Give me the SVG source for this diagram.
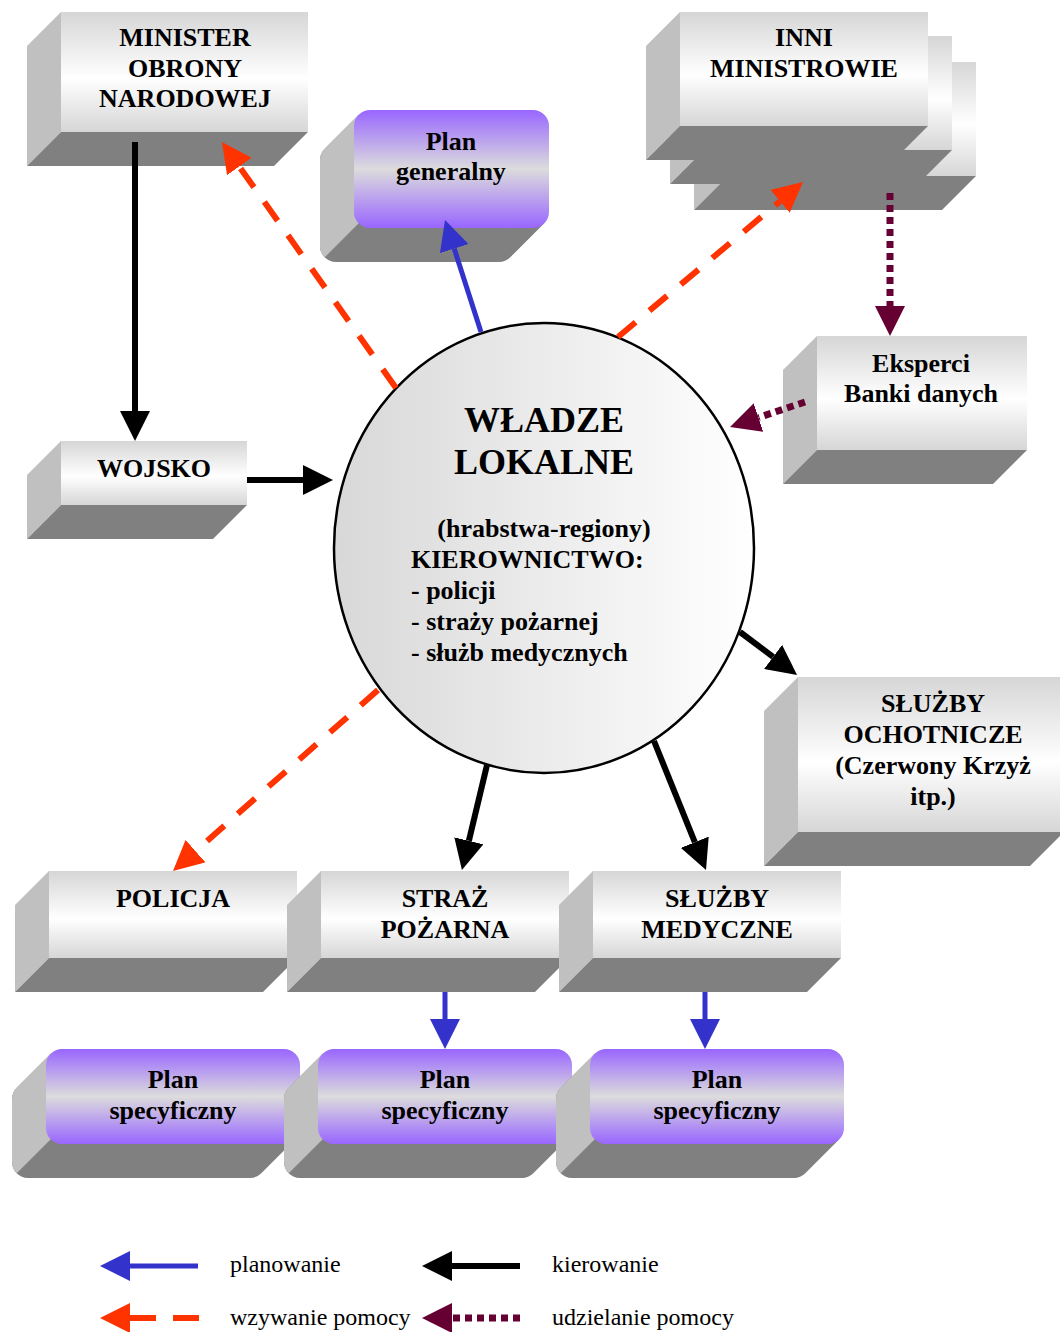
<svg xmlns="http://www.w3.org/2000/svg" width="1060" height="1332" viewBox="0 0 1060 1332">
  <defs>
    <linearGradient id="gFront" x1="0" y1="0" x2="0" y2="1">
      <stop offset="0" stop-color="#d6d6d6"/>
      <stop offset="0.55" stop-color="#ffffff"/>
      <stop offset="1" stop-color="#d6d6d6"/>
    </linearGradient>
    <linearGradient id="gPlan" x1="0" y1="0" x2="0" y2="1">
      <stop offset="0" stop-color="#9966ff"/>
      <stop offset="0.5" stop-color="#dcdcdc"/>
      <stop offset="1" stop-color="#9966ff"/>
    </linearGradient>
    <linearGradient id="gCircle" x1="0" y1="0" x2="1" y2="0">
      <stop offset="0" stop-color="#d8d8d8"/>
      <stop offset="1" stop-color="#ffffff"/>
    </linearGradient>
    <marker id="hBlack" markerUnits="userSpaceOnUse" markerWidth="30" markerHeight="30" refX="0" refY="15" orient="auto">
      <path d="M0,0 L30,15 L0,30 Z" fill="#000000"/>
    </marker>
    <marker id="hBlue" markerUnits="userSpaceOnUse" markerWidth="30" markerHeight="30" refX="0" refY="15" orient="auto">
      <path d="M0,0 L30,15 L0,30 Z" fill="#3333cc"/>
    </marker>
    <marker id="hRed" markerUnits="userSpaceOnUse" markerWidth="30" markerHeight="30" refX="0" refY="15" orient="auto">
      <path d="M0,0 L30,15 L0,30 Z" fill="#ff3300"/>
    </marker>
    <marker id="hMaroon" markerUnits="userSpaceOnUse" markerWidth="30" markerHeight="30" refX="0" refY="15" orient="auto">
      <path d="M0,0 L30,15 L0,30 Z" fill="#660033"/>
    </marker>
    <!-- rounded plan slab, 254 x 95, extruded 34px down-left -->
    <g id="planSlab">
      <path class="bottom" d="M4.7,4.7 L-29.3,38.7 A16,16 0 0 0 -34,50 L-34,113 A16,16 0 0 0 -18,129 L204,129 A16,16 0 0 0 215.3,124.3 L249.3,90.3 Z"/>
      <path class="side" d="M4.7,4.7 L-29.3,38.7 A16,16 0 0 0 -34,50 L-34,113 A16,16 0 0 0 -29.3,124.3 L4.7,90.3 Z"/>
      <rect class="plan" x="0" y="0" width="254" height="95" rx="16" ry="16"/>
    </g>
  </defs>
  <style>
    .side { fill: #c0c0c0; }
    .bottom { fill: #808080; }
    .front { fill: url(#gFront); }
    .plan { fill: url(#gPlan); }
    text { font-family: "Liberation Serif", "Times New Roman", serif; fill: #000000; }
    .lbl { font-size: 26px; font-weight: bold; text-anchor: middle; }
    .title { font-size: 36px; font-weight: bold; text-anchor: middle; }
    .body { font-size: 26px; font-weight: bold; }
    .legend { font-size: 24px; }
    .k { stroke: #000000; stroke-width: 6; fill: none; marker-end: url(#hBlack); }
    .b { stroke: #3333cc; stroke-width: 5; fill: none; marker-end: url(#hBlue); }
    .r { stroke: #ff3300; stroke-width: 6; fill: none; stroke-dasharray: 23 18; marker-end: url(#hRed); }
    .m { stroke: #660033; stroke-width: 7; fill: none; stroke-dasharray: 7 5; marker-end: url(#hMaroon); }
  </style>

  <rect x="0" y="0" width="1060" height="1332" fill="#ffffff"/>

  <!-- MINISTER OBRONY NARODOWEJ -->
  <g id="minister">
    <polygon class="side" points="61,12 27,46 27,166 61,132"/>
    <polygon class="bottom" points="61,132 308,132 274,166 27,166"/>
    <rect class="front" x="61" y="12" width="247" height="120"/>
    <text class="lbl" x="185" y="46">MINISTER</text>
    <text class="lbl" x="185" y="77">OBRONY</text>
    <text class="lbl" x="185" y="107">NARODOWEJ</text>
  </g>

  <!-- INNI MINISTROWIE: three stacked slabs -->
  <g id="inni">
    <polygon class="side" points="728,62 694,96 694,210 728,176"/>
    <polygon class="bottom" points="728,176 976,176 942,210 694,210"/>
    <rect class="front" x="728" y="62" width="248" height="114"/>
    <polygon class="side" points="704,36 670,70 670,184 704,150"/>
    <polygon class="bottom" points="704,150 952,150 918,184 670,184"/>
    <rect class="front" x="704" y="36" width="248" height="114"/>
    <polygon class="side" points="680,12 646,46 646,160 680,126"/>
    <polygon class="bottom" points="680,126 928,126 894,160 646,160"/>
    <rect class="front" x="680" y="12" width="248" height="114"/>
    <text class="lbl" x="804" y="46">INNI</text>
    <text class="lbl" x="804" y="77">MINISTROWIE</text>
  </g>

  <!-- Plan generalny -->
  <g id="plan-generalny" transform="translate(354,110)">
    <path class="bottom" d="M4.7,4.7 L-29.3,38.7 A16,16 0 0 0 -34,50 L-34,136 A16,16 0 0 0 -18,152 L145,152 A16,16 0 0 0 156.3,147.3 L190.3,113.3 Z"/>
    <path class="side" d="M4.7,4.7 L-29.3,38.7 A16,16 0 0 0 -34,50 L-34,136 A16,16 0 0 0 -29.3,147.3 L4.7,113.3 Z"/>
    <rect class="plan" x="0" y="0" width="195" height="118" rx="16" ry="16"/>
    <text class="lbl" x="97" y="40">Plan</text>
    <text class="lbl" x="97" y="70">generalny</text>
  </g>

  <!-- Eksperci / Banki danych -->
  <g id="eksperci">
    <polygon class="side" points="817,336 783,370 783,484 817,450"/>
    <polygon class="bottom" points="817,450 1027,450 993,484 783,484"/>
    <rect class="front" x="817" y="336" width="210" height="114"/>
    <text class="lbl" x="921" y="372">Eksperci</text>
    <text class="lbl" x="921" y="402">Banki danych</text>
  </g>

  <!-- WOJSKO -->
  <g id="wojsko">
    <polygon class="side" points="61,441 27,475 27,539 61,505"/>
    <polygon class="bottom" points="61,505 247,505 213,539 27,539"/>
    <rect class="front" x="61" y="441" width="186" height="64"/>
    <text class="lbl" x="154" y="477">WOJSKO</text>
  </g>

  <!-- WŁADZE LOKALNE -->
  <g id="wladze-lokalne">
    <ellipse cx="544" cy="548" rx="210" ry="225" fill="url(#gCircle)" stroke="#000000" stroke-width="2.5"/>
    <text class="title" x="544" y="432">WŁADZE</text>
    <text class="title" x="544" y="474">LOKALNE</text>
    <text class="lbl" x="544" y="537">(hrabstwa-regiony)</text>
    <text class="body" x="411" y="568">KIEROWNICTWO:</text>
    <text class="body" x="411" y="599">- policji</text>
    <text class="body" x="411" y="630">- straży pożarnej</text>
    <text class="body" x="411" y="661">- służb medycznych</text>
  </g>

  <!-- SŁUŻBY OCHOTNICZE -->
  <g id="sluzby-ochotnicze">
    <polygon class="side" points="798,677 764,711 764,866 798,832"/>
    <polygon class="bottom" points="798,832 1064,832 1030,866 764,866"/>
    <rect class="front" x="798" y="677" width="266" height="155"/>
    <text class="lbl" x="933" y="712">SŁUŻBY</text>
    <text class="lbl" x="933" y="743">OCHOTNICZE</text>
    <text class="lbl" x="933" y="774">(Czerwony Krzyż</text>
    <text class="lbl" x="933" y="805">itp.)</text>
  </g>

  <!-- POLICJA -->
  <g id="policja">
    <polygon class="side" points="49,871 15,905 15,992 49,958"/>
    <polygon class="bottom" points="49,958 297,958 263,992 15,992"/>
    <rect class="front" x="49" y="871" width="248" height="87"/>
    <text class="lbl" x="173" y="907">POLICJA</text>
  </g>

  <!-- STRAŻ POŻARNA -->
  <g id="straz-pozarna">
    <polygon class="side" points="321,871 287,905 287,992 321,958"/>
    <polygon class="bottom" points="321,958 569,958 535,992 287,992"/>
    <rect class="front" x="321" y="871" width="248" height="87"/>
    <text class="lbl" x="445" y="907">STRAŻ</text>
    <text class="lbl" x="445" y="938">POŻARNA</text>
  </g>

  <!-- SŁUŻBY MEDYCZNE -->
  <g id="sluzby-medyczne">
    <polygon class="side" points="593,871 559,905 559,992 593,958"/>
    <polygon class="bottom" points="593,958 841,958 807,992 559,992"/>
    <rect class="front" x="593" y="871" width="248" height="87"/>
    <text class="lbl" x="717" y="907">SŁUŻBY</text>
    <text class="lbl" x="717" y="938">MEDYCZNE</text>
  </g>

  <!-- Plan specyficzny (x3) -->
  <g id="plan-specyficzny-1" transform="translate(46,1049)">
    <use href="#planSlab"/>
    <text class="lbl" x="127" y="39">Plan</text>
    <text class="lbl" x="127" y="70">specyficzny</text>
  </g>
  <g id="plan-specyficzny-2" transform="translate(318,1049)">
    <use href="#planSlab"/>
    <text class="lbl" x="127" y="39">Plan</text>
    <text class="lbl" x="127" y="70">specyficzny</text>
  </g>
  <g id="plan-specyficzny-3" transform="translate(590,1049)">
    <use href="#planSlab"/>
    <text class="lbl" x="127" y="39">Plan</text>
    <text class="lbl" x="127" y="70">specyficzny</text>
  </g>

  <!-- connectors -->
  <g id="connectors">
    <path class="k" d="M135,142 L135,411"/>
    <path class="k" d="M247,480 L303,480"/>
    <path class="k" d="M740,632 L773.1,656.9"/>
    <path class="k" d="M487,765 L468.9,840.8"/>
    <path class="k" d="M654,741 L694.8,842.2"/>
    <path class="b" d="M481,332 L454.2,248.6"/>
    <path class="b" d="M445,992 L445,1019"/>
    <path class="b" d="M705,992 L705,1019"/>
    <path class="r" d="M396,388 L239.3,166.5"/>
    <path class="r" d="M618,337 L780,201.3"/>
    <path class="r" d="M378,690 L195.5,851.1"/>
    <path class="m" d="M890,193 L890,306"/>
    <path class="m" d="M805,402 L758.5,417.5"/>
  </g>

  <!-- legend -->
  <g id="legend">
    <path class="b" d="M198,1266 L130,1266"/>
    <text class="legend" x="230" y="1272">planowanie</text>
    <path class="k" d="M520,1266 L452,1266"/>
    <text class="legend" x="552" y="1272">kierowanie</text>
    <path class="r" style="stroke-dasharray: 26 17" d="M130,1318 L199,1318" transform="rotate(180 164.5 1318)"/>
    <text class="legend" x="230" y="1325">wzywanie pomocy</text>
    <path class="m" d="M520,1318 L452,1318"/>
    <text class="legend" x="552" y="1325">udzielanie pomocy</text>
  </g>
</svg>
